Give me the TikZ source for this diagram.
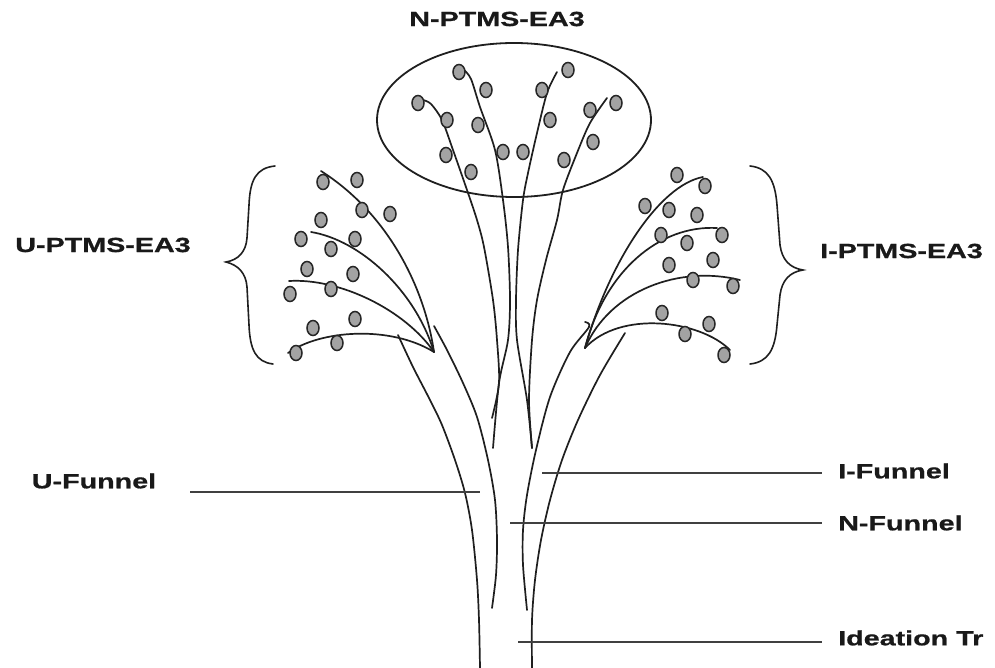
\documentclass[tikz,border=0pt]{standalone}
\usepackage{fontspec}
\newfontfamily\lblfont{Liberation Sans Bold}[FakeStretch=1.4,FakeBold=0.8]
\begin{document}
\begin{tikzpicture}[x=1pt,y=-1pt,
  curve/.style={draw=black!88,line width=1.7pt,line cap=round},
  leader/.style={draw=black!75,line width=1.4pt},
  brace/.style={draw=black!88,line width=1.6pt,line cap=round},
  dot/.style={draw=black!85,fill=black!36,line width=1.5pt},
  lbl/.style={font=\lblfont\fontsize{20.5}{24}\selectfont,text=black!90,inner sep=0pt}]
\useasboundingbox (0,0) rectangle (995,668);
\fill[white] (0,0) rectangle (995,668);

% labels
\node[lbl] (nptms) at (497,19) {N-PTMS-EA3};
\node[lbl] (uptms) at (103,245) {U-PTMS-EA3};
\node[lbl,anchor=east] (iptms) at (983,251) {I-PTMS-EA3};
\node[lbl] (ufun) at (94,481) {U-Funnel};
\node[lbl,anchor=west] (ifun) at (838,471) {I-Funnel};
\node[lbl,anchor=west] (nfun) at (838,523) {N-Funnel};
\node[lbl,anchor=west] (itr) at (838,638) {Ideation Tr};

% ellipse
\draw[curve,line width=1.8pt] (514,120) ellipse [x radius=137pt, y radius=77pt];

% tips
\coordinate (ltip) at (434,352);
\coordinate (rtip) at (585,348);

% left fan curves
\draw[curve] (321,171) .. controls (390,215) and (425,290) .. (ltip);
\draw[curve] (311,232) .. controls (360,240) and (415,290) .. (ltip);
\draw[curve] (289,281) .. controls (340,278) and (405,310) .. (ltip);
\draw[curve] (288,353) .. controls (320,330) and (390,325) .. (ltip);

% right fan curves
\draw[curve] (703,177) .. controls (660,185) and (610,260) .. (rtip);
\draw[curve] (717,228) .. controls (660,225) and (605,270) .. (rtip);
\draw[curve] (740,280) .. controls (680,265) and (610,290) .. (rtip);
\draw[curve] (730,350) .. controls (700,320) and (620,310) .. (rtip);

% central N curves
\draw[curve] plot[smooth] coordinates {(423,100) (431,104) (442,120) (453,150) (467,190) (477,220) (484,247) (493,300) (497,340) (499,383) (492,418)};
\draw[curve] plot[smooth] coordinates {(464,70) (471,79) (480,107) (495,150) (503,200) (508,247) (510,300) (508,340) (499,383) (493,448)};
\draw[curve] plot[smooth] coordinates {(557,72) (547,93) (537,133) (528,173) (523,200) (518,250) (516,300) (517,340) (527,400) (532,448)};
\draw[curve] plot[smooth] coordinates {(607,98) (590,123) (577,153) (563,190) (557,220) (546,260) (537,300) (532,340) (529,400) (532,448)};

% funnel curves
\draw[curve] plot[smooth] coordinates {(398,335) (413,367) (430,400) (442,425) (455,460) (465,493) (472,530) (477,580) (479,620) (480,668)};
\draw[curve] plot[smooth] coordinates {(434,326) (447,350) (463,383) (477,417) (488,460) (495,500) (497,540) (496,575) (492,608)};
\draw[curve] plot[smooth] coordinates {(585,322) (589,327) (570,352) (550,397) (536,450) (527,495) (523,530) (523,565) (527,610)};
\draw[curve] plot[smooth] coordinates {(625,333) (600,375) (578,420) (562,460) (550,500) (541,540) (535,580) (532,620) (532,668)};

% leader lines
\coordinate (ufunL) at (190,492); \coordinate (ufunR) at (480,492);
\coordinate (ifunL) at (542,473); \coordinate (ifunR) at (822,473);
\coordinate (nfunL) at (510,523); \coordinate (nfunR) at (822,523);
\coordinate (itrL) at (518,642); \coordinate (itrR) at (822,642);
\draw[leader] (ufunL) -- (ufunR);
\draw[leader] (ifunL) -- (ifunR);
\draw[leader] (nfunL) -- (nfunR);
\draw[leader] (itrL) -- (itrR);

% braces
\draw[brace] (275,166) .. controls (256,168) and (250,180) .. (249,205)
  -- (247,238) .. controls (246,252) and (238,260) .. (226,262)
  .. controls (238,265) and (246,273) .. (247,287)
  -- (249,325) .. controls (250,350) and (256,362) .. (273,364);
\draw[brace] (750,166) .. controls (768,168) and (775,180) .. (777,205)
  -- (780,245) .. controls (782,260) and (790,268) .. (803,270)
  .. controls (790,272) and (782,280) .. (780,295)
  -- (777,325) .. controls (775,350) and (768,362) .. (750,364);

% dots
\foreach \p in {(459,72),(568,70),(418,103),(486,90),(542,90),(447,120),(478,125),(550,120),(590,110),(616,103),(446,155),(471,172),(503,152),(523,152),(564,160),(593,142)}
  \draw[dot] \p ellipse [x radius=6pt, y radius=7.5pt];
\foreach \p in {(323,182),(357,180),(362,210),(390,214),(321,220),(301,239),(355,239),(331,249),(307,269),(353,274),(290,294),(331,289),(313,328),(355,319),(337,343),(296,353)}
  \draw[dot] \p ellipse [x radius=6pt, y radius=7.5pt];
\foreach \p in {(677,175),(705,186),(645,206),(669,210),(697,215),(661,235),(687,243),(722,235),(669,265),(713,260),(693,280),(733,286),(662,313),(709,324),(685,334),(724,355)}
  \draw[dot] \p ellipse [x radius=6pt, y radius=7.5pt];
\end{tikzpicture}
\end{document}
